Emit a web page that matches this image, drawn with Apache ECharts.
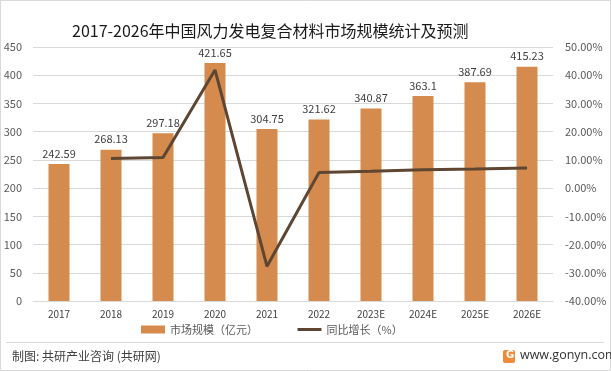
<!DOCTYPE html>
<html><head><meta charset="utf-8">
<script src="https://cdn.jsdelivr.net/npm/echarts@6/dist/echarts.min.js"></script>
<style>html,body{margin:0;padding:0;background:#fff}#c{width:611px;height:371px}</style>
</head><body><div id="c"></div>
<script>
var categories = ['2017','2018','2019','2020','2021','2022','2023E','2024E','2025E','2026E'];
var marketSize = [242.59,268.13,297.18,421.65,304.75,321.62,340.87,363.1,387.69,415.23];
var yoyGrowth = [null,10.53,10.83,41.88,-27.72,5.54,5.99,6.52,6.77,7.10];
var leftTicks = {min:0,max:450,interval:50};
var rightTicks = {min:-40,max:50,interval:10};

var FONT = 'Noto Sans CJK SC';
var chart = echarts.init(document.getElementById('c'));
chart.setOption({
  backgroundColor:'#fff',
  animation:false,
  textStyle:{fontFamily:FONT},
  title:{text:'2017-2026年中国风力发电复合材料市场规模统计及预测',left:67,top:18,
    textStyle:{fontSize:16,fontWeight:'normal',color:'#1a1a1a',fontFamily:FONT}},
  grid:{left:33,right:58,top:47,bottom:70},
  legend:{bottom:31,left:136,itemGap:38,
    textStyle:{fontSize:11,color:'#595959',fontFamily:FONT},
    data:[{name:'市场规模（亿元）',icon:'rect',itemStyle:{color:'#D48B4D'}},
          {name:'同比增长（%）',itemStyle:{color:'rgba(0,0,0,0)',borderWidth:0,opacity:0},
           lineStyle:{width:3,color:'#5E4632'}}],
    itemWidth:24,itemHeight:8},
  xAxis:{type:'category',data:categories,
    axisLine:{lineStyle:{color:'#D9D9D9'}},axisTick:{show:false},
    axisLabel:{fontSize:10,color:'#404040',margin:8}},
  yAxis:[
    {type:'value',min:leftTicks.min,max:leftTicks.max,interval:leftTicks.interval,
     axisLabel:{fontSize:11,color:'#595959',margin:11},
     splitLine:{lineStyle:{color:'#D9D9D9'}},axisLine:{show:false},axisTick:{show:false}},
    {type:'value',min:rightTicks.min,max:rightTicks.max,interval:rightTicks.interval,
     axisLabel:{fontSize:11,color:'#595959',margin:12,align:'left',formatter:function(v){return v.toFixed(2)+'%';}},
     splitLine:{show:false},axisLine:{show:false},axisTick:{show:false}}
  ],
  series:[
    {name:'市场规模（亿元）',type:'bar',data:marketSize,barWidth:21,
     itemStyle:{color:'#D48B4D'},
     label:{show:true,position:'top',distance:5,fontSize:11,color:'#404040',
       formatter:function(p){return p.value;}}},
    {name:'同比增长（%）',type:'line',yAxisIndex:1,data:yoyGrowth,
     showSymbol:false,symbol:'none',lineStyle:{width:3,color:'#5E4632'},itemStyle:{color:'#5E4632'}}
  ],
  graphic:[
    {type:'rect',shape:{x:0.5,y:0.5,width:610,height:370},style:{fill:'none',stroke:'#D9D9D9',lineWidth:1},silent:true},
    {type:'line',shape:{x1:6,y1:342.5,x2:604,y2:342.5},style:{stroke:'#D9D9D9',lineWidth:1}},
    {type:'text',left:12,top:350,style:{text:'制图: 共研产业咨询 (共研网)',fontSize:12,fill:'#404040',fontFamily:FONT}},
    {type:'rect',shape:{x:503,y:350,width:12,height:13,r:2},style:{fill:'#F08A3A'}},
    {type:'text',left:506,top:350,style:{text:'G',fontSize:10,fontWeight:'bold',fill:'#fff',fontFamily:'DejaVu Sans'}},
    {type:'text',left:520,top:349,style:{text:'www.gonyn.com',fontSize:12.5,fill:'#333',fontFamily:'Open Sans'}}
  ]
});
</script></body></html>
